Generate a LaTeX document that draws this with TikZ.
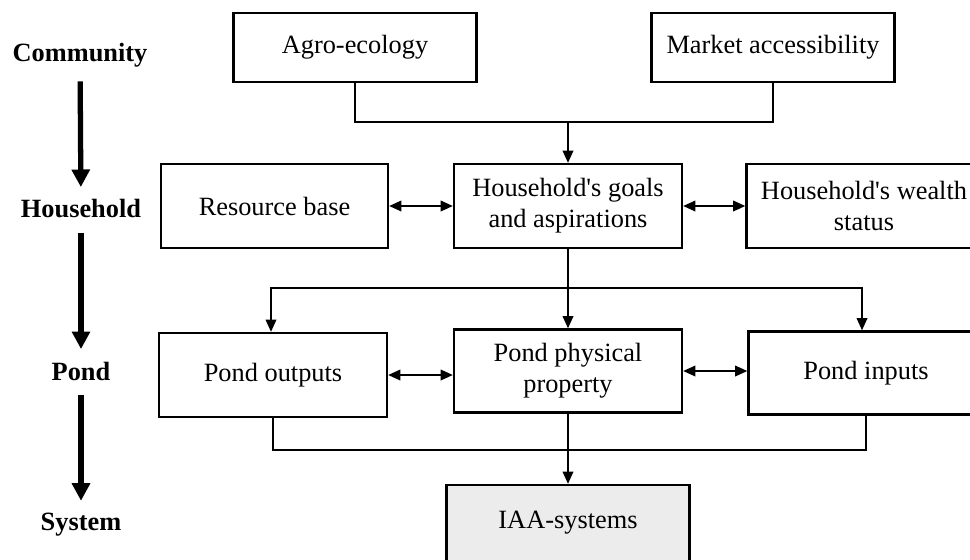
\documentclass[tikz,border=0pt]{standalone}
\usepackage{fontspec}
\setmainfont{Liberation Serif}
\usetikzlibrary{arrows.meta, positioning}

\begin{document}
\begin{tikzpicture}[
      x=0.02cm, y=-0.02cm,
      box/.style={draw, line width=1.3pt, minimum width=4.56cm, minimum height=1.68cm, align=center, inner sep=2pt, font=\fontsize{15}{17.5}\selectfont},
      level/.style={inner sep=2pt, font=\fontsize{15}{17.5}\selectfont\bfseries},
      conn/.style={line width=1.1pt},
      arr/.style={conn, -{Triangle[length=7pt, width=6pt]}},
      darr/.style={conn, {Triangle[length=7pt, width=6pt]}-{Triangle[length=7pt, width=6pt]}},
      bigarr/.style={line width=3pt, -{Triangle[length=10pt, width=10pt]}, shorten <=6pt, shorten >=5pt}
    ]
      \path[use as bounding box, clip] (0,0) rectangle (970,559);

      % levels on the left
      \node[level] (comm) at (80,55) {Community};
      \node[level] (hh) at (81,209) {Household};
      \node[level] (pond) at (81,371) {Pond};
      \node[level] (sys) at (81,525) {System};
      \draw[bigarr] (comm) -- (hh);
      \draw[bigarr] (hh) -- (pond);
      \draw[bigarr] (pond) -- (sys);

      % community
      \node[box, minimum width=4.86cm, minimum height=1.38cm] (agro) at (355,47.5) {Agro-ecology};
      \node[box, minimum width=4.86cm, minimum height=1.38cm] (market) at (773,47.5) {Market accessibility};

      % household
      \node[box, minimum width=4.54cm] (res) at (274.5,206) {Resource base};
      \node[box] (goals) at (568,206) {Household\textquotesingle s goals\\and aspirations};
      \node[box, minimum width=4.7cm] (wealth) at (864,206) {Household\textquotesingle s wealth\\status};

      % pond
      \node[box] (outputs) at (273,375) {Pond outputs};
      \node[box, minimum height=1.66cm] (phys) at (568,371) {Pond physical\\property};
      \node[box, minimum width=4.7cm, minimum height=1.66cm] (inputs) at (866,373) {Pond inputs};

      % system
      \node[box, fill=gray!15, minimum width=4.86cm, minimum height=1.52cm] (iaa) at (568,523) {IAA-systems};

      \coordinate (topj) at (568,122);
      \coordinate (midj) at (568,288);
      \coordinate (botj) at (568,450);

      \draw[conn] (agro.south) |- (topj) -| (market.south);
      \draw[arr] (topj) -- (goals.north);
      \draw[darr] (res.east) -- (goals.west);
      \draw[darr] (goals.east) -- (goals.east -| wealth.west);

      \draw[conn] (goals.south) -- (midj);
      \draw[arr] (midj) -| ([xshift=-0.04cm]outputs.north);
      \draw[arr] (midj) -| ([xshift=-0.08cm]inputs.north);
      \draw[arr] (midj) -- (phys.north);
      \draw[darr] (outputs.east) -- (outputs.east -| phys.west);
      \draw[darr] (phys.east) -- (phys.east -| inputs.west);

      \draw[conn] (outputs.south) |- (botj) -| (inputs.south);
      \draw[arr] (phys.south) -- (iaa.north);
    \end{tikzpicture}
\end{document}
